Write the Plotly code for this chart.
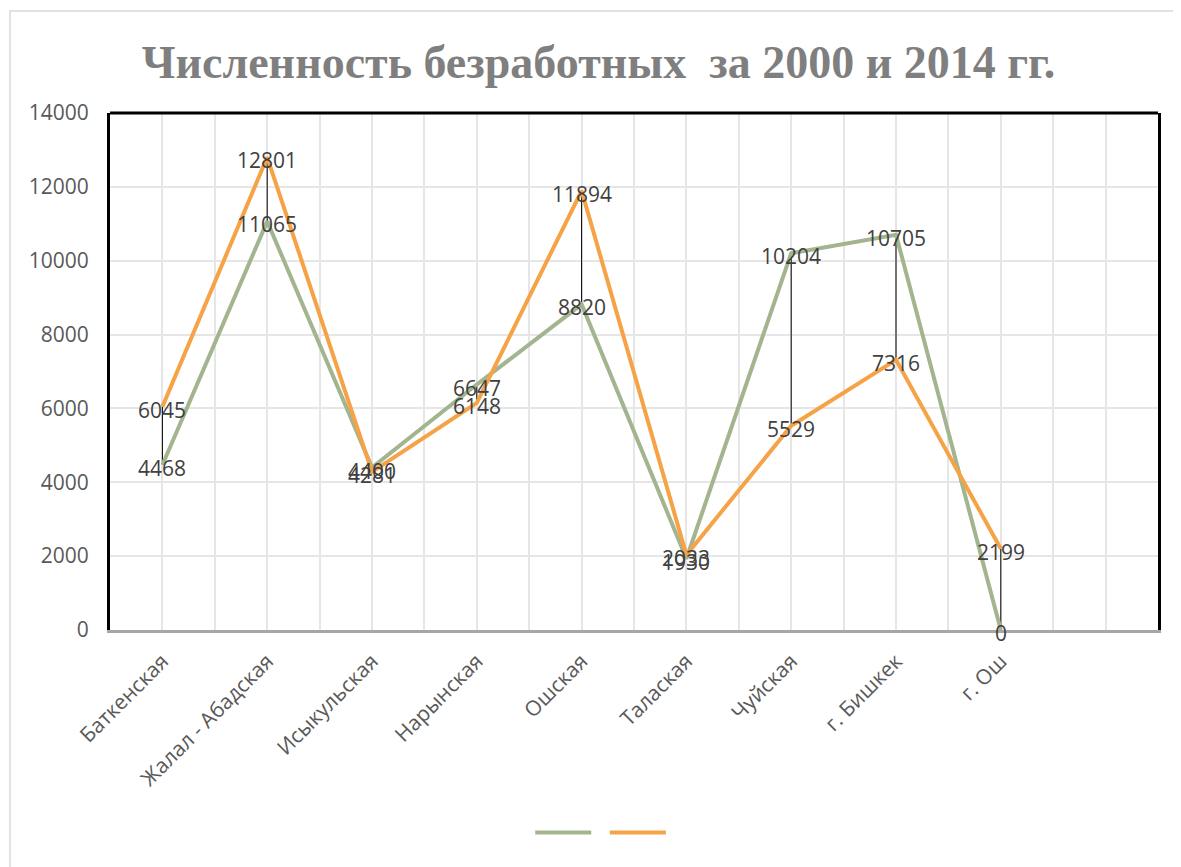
import plotly.graph_objects as go

categories = ["Баткенская", "Жалал - Абадская", "Исыкульская", "Нарынская", "Ошская",
              "Талаская", "Чуйская", "г. Бишкек", "г. Ош"]
values_2000 = [4468, 11065, 4400, 6647, 8820, 1930, 10204, 10705, 0]
values_2014 = [6045, 12801, 4281, 6148, 11894, 2033, 5529, 7316, 2199]
y_ticks = [0, 2000, 4000, 6000, 8000, 10000, 12000, 14000]

GREEN = "#a2b58f"
ORANGE = "#f5a346"
LABEL = "#404040"
FONT = "Open Sans"

xs = list(range(len(categories)))

# drop lines between the two series
drop_x, drop_y = [], []
for i in xs:
    drop_x += [i, i, None]
    drop_y += [values_2000[i], values_2014[i], None]

fig = go.Figure()
fig.add_trace(go.Scatter(x=drop_x, y=drop_y, mode="lines",
                         line=dict(color="black", width=1),
                         showlegend=False, hoverinfo="skip"))
fig.add_trace(go.Scatter(x=xs, y=values_2000, mode="lines", name=" ",
                         line=dict(color=GREEN, width=4)))
fig.add_trace(go.Scatter(x=xs, y=values_2014, mode="lines", name="  ",
                         line=dict(color=ORANGE, width=4)))

# data labels centred on the points
annotations = []
for series in (values_2000, values_2014):
    for x, v in zip(xs, series):
        annotations.append(dict(x=x, y=v, xref="x", yref="y", text=str(v),
                                showarrow=False, xanchor="center", yanchor="middle",
                                yshift=-3,
                                font=dict(family=FONT, size=21, color=LABEL)))

fig.update_layout(
    width=1173, height=859,
    paper_bgcolor="white", plot_bgcolor="white",
    margin=dict(l=102, r=23, t=105, b=237),
    title=dict(text="<b>Численность безработных&nbsp; за 2000 и 2014 гг.</b>",
               x=0.5034, xanchor="center", y=0.937, yanchor="middle",
               font=dict(family="Liberation Serif", size=46, color="#7f7f7f")),
    legend=dict(orientation="h", x=0.474, xanchor="center", y=-0.3926, yanchor="middle",
                itemwidth=56, font=dict(size=14)),
    showlegend=True,
    annotations=annotations,
    shapes=[
        dict(type="rect", xref="paper", yref="paper",
             x0=-0.0954, x1=1.03, y0=-0.47, y1=1.1973,
             line=dict(color="#d9d9d9", width=1.5), layer="below"),
        dict(type="line", xref="paper", yref="paper", x0=0, x1=1, y0=1, y1=1,
             line=dict(color="black", width=3)),
    ],
)
fig.update_xaxes(
    range=[-0.5, 9.5], tickvals=xs, ticktext=categories, tickangle=-45,
    tickfont=dict(family=FONT, size=21, color="#595959"),
    ticklabelstandoff=8,
    showgrid=True, gridcolor="#e6e6e6", gridwidth=1.5,
    minor=dict(tick0=-0.5, dtick=0.5, showgrid=True, gridcolor="#e6e6e6", gridwidth=1.5),
    showline=True, linecolor="#a6a6a6", linewidth=2.5, mirror=False,
    ticks="", zeroline=False,
)
fig.update_yaxes(
    range=[0, 14000], tickvals=y_ticks, ticktext=[str(v) for v in y_ticks],
    tickfont=dict(family=FONT, size=21, color="#595959"),
    ticklabelstandoff=14,
    showgrid=True, gridcolor="#e6e6e6", gridwidth=1.5,
    showline=True, linecolor="black", linewidth=3, mirror=True,
    ticks="", zeroline=False,
)
fig.write_html("out.html")
